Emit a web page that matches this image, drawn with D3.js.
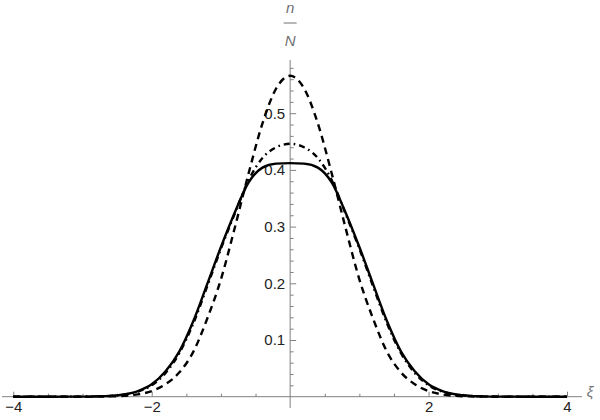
<!DOCTYPE html>
<html><head><meta charset="utf-8">
<script src="https://cdn.jsdelivr.net/npm/d3@7"></script>
<style>html,body{margin:0;padding:0;background:#fff;}svg{display:block;}</style>
</head><body>
<svg id="c" width="600" height="420"></svg>
<script>
const xi = [-4,-3.6,-3.2,-3,-2.8,-2.6,-2.4,-2.2,-2,-1.8,-1.6,-1.4,-1.2,-1,-0.8,-0.6,-0.4,-0.2,0,0.2,0.4,0.6,0.8,1,1.2,1.4,1.6,1.8,2,2.2,2.4,2.6,2.8,3,3.2,3.6,4];
const solid = [0,0,0.0001,0.0002,0.0006,0.0015,0.004,0.010,0.022,0.045,0.080,0.133,0.198,0.264,0.325,0.378,0.404,0.411,0.412,0.411,0.404,0.378,0.325,0.264,0.198,0.133,0.080,0.045,0.022,0.010,0.004,0.0015,0.0006,0.0002,0.0001,0,0];
const dashed = [0,0,0,0,0.0002,0.0005,0.0015,0.004,0.010,0.022,0.043,0.079,0.137,0.207,0.298,0.394,0.482,0.544,0.566,0.544,0.482,0.394,0.298,0.207,0.137,0.079,0.043,0.022,0.010,0.004,0.0015,0.0005,0.0002,0,0,0,0];
const dashdot = [0,0,0.0001,0.0002,0.0005,0.0013,0.0035,0.009,0.020,0.042,0.077,0.129,0.194,0.261,0.323,0.382,0.421,0.440,0.446,0.440,0.421,0.382,0.323,0.261,0.194,0.129,0.077,0.042,0.020,0.009,0.0035,0.0013,0.0005,0.0002,0.0001,0,0];
const xMajor = [-4,-2,2,4];
const xMinor = [-3.5,-3,-2.5,-1.5,-1,-0.5,0.5,1,1.5,2.5,3,3.5];
const yMajor = [0.1,0.2,0.3,0.4,0.5];
const yMinor = d3.range(1,30).map(i=>+(i*0.02).toFixed(2)).filter(v=>Math.abs(v*10-Math.round(v*10))>1e-6);

const svg = d3.select('#c');
const x = d3.scaleLinear([-4,4],[13.3,567]);
const y = d3.scaleLinear([0,0.5],[396.7,113.2]);
const axisColor = '#808080';
const font = '"Liberation Sans", Arial, sans-serif';

// axis lines
svg.append('line').attr('x1',2).attr('x2',582).attr('y1',y(0)).attr('y2',y(0)).attr('stroke',axisColor).attr('stroke-width',1);
svg.append('line').attr('x1',x(0)).attr('x2',x(0)).attr('y1',60).attr('y2',408).attr('stroke',axisColor).attr('stroke-width',1);

function styleAxis(g){
  g.select('.domain').remove();
  g.selectAll('line').attr('stroke',axisColor);
  g.selectAll('text').attr('fill','#222').style('font-family',font).style('font-size','15px');
}
svg.append('g').attr('transform',`translate(0,${y(0)})`)
  .call(d3.axisBottom(x).tickValues(xMinor).tickSize(-3).tickFormat('')).call(styleAxis);
svg.append('g').attr('transform',`translate(0,${y(0)})`)
  .call(d3.axisBottom(x).tickValues(xMajor).tickSize(-5).tickPadding(5).tickFormat(d3.format('d'))).call(styleAxis);
svg.append('g').attr('transform',`translate(${x(0)},0)`)
  .call(d3.axisLeft(y).tickValues(yMinor).tickSize(-3.5).tickFormat('')).call(styleAxis);
svg.append('g').attr('transform',`translate(${x(0)},0)`)
  .call(d3.axisLeft(y).tickValues(yMajor).tickSize(-6).tickPadding(5).tickFormat(d=>d.toFixed(1))).call(styleAxis);

// axis labels
const lab = svg.append('g').attr('fill','#707070').style('font-family',font).style('font-style','italic').style('font-size','15px');
lab.append('text').attr('x',x(0)).attr('y',13).attr('text-anchor','middle').text('n');
lab.append('line').attr('x1',x(0)-6.5).attr('x2',x(0)+6.5).attr('y1',23).attr('y2',23).attr('stroke','#707070').attr('stroke-width',1);
lab.append('text').attr('x',x(0)).attr('y',45.5).attr('text-anchor','middle').text('N');
lab.append('text').attr('x',590).attr('y',397).attr('text-anchor','middle').text('ξ');

// curves
const line = d3.line().x(d=>x(d[0])).y(d=>y(d[1])).curve(d3.curveMonotoneX);
const series = [
  {v:solid, dash:null},
  {v:dashed, dash:'7,5'},
  {v:dashdot, dash:'6,4,1.6,4'}
];
series.forEach(s=>{
  svg.append('path').datum(xi.map((t,i)=>[t,s.v[i]]))
    .attr('d',line).attr('fill','none').attr('stroke','#000')
    .attr('stroke-width',2.4).attr('stroke-dasharray',s.dash);
});
</script>
</body></html>
